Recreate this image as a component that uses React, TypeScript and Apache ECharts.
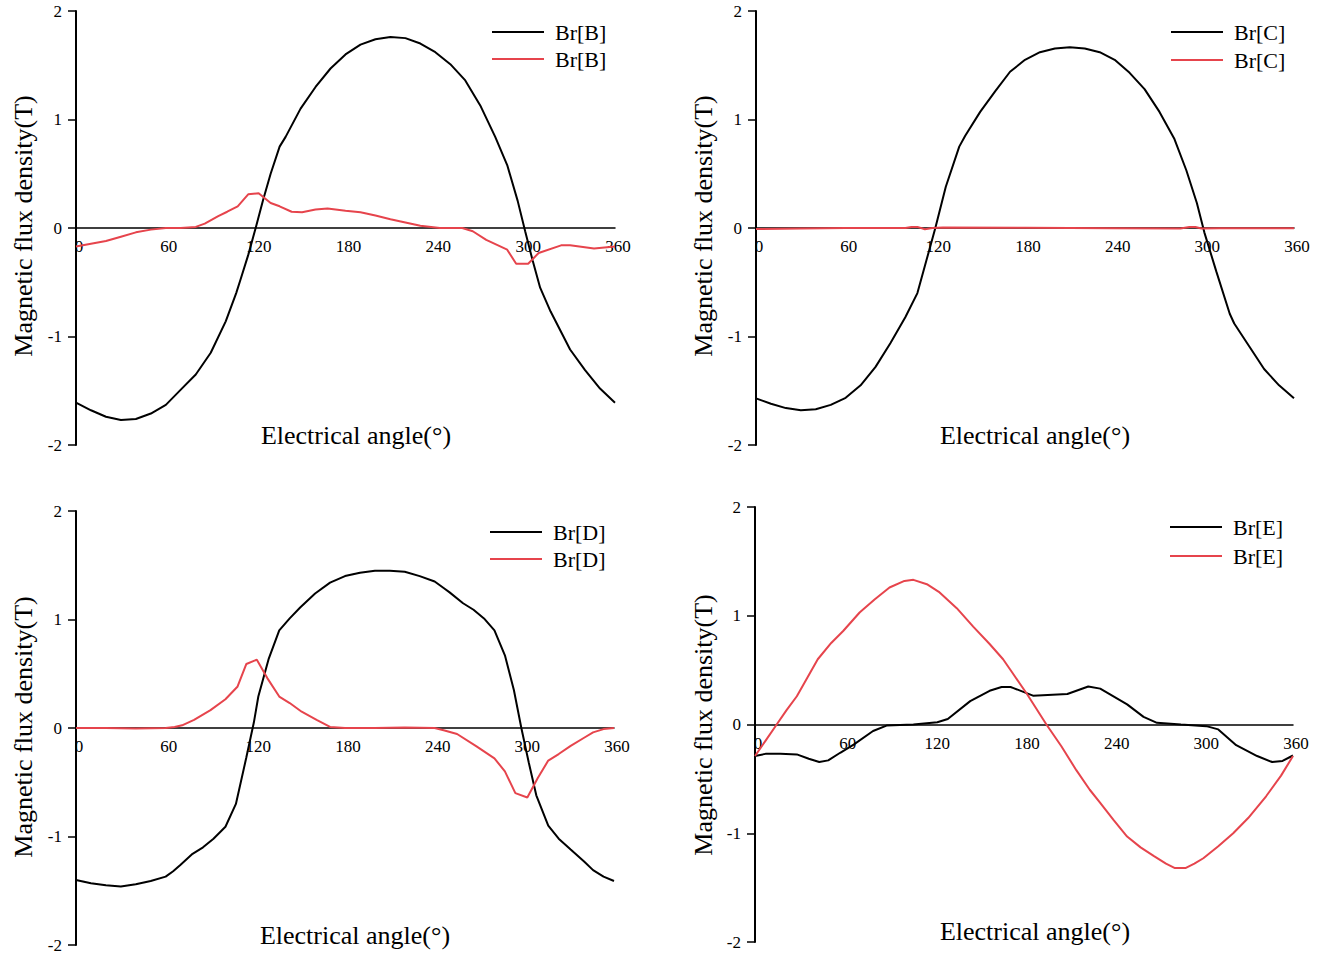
import React, { useEffect, useRef } from 'react';
import * as echarts from 'echarts';

const FONT = 'Liberation Serif';
const RED = '#e6444c';

const angleMin = 0;
const angleMax = 360;
const angleStep = 60;
const yMin = -2;
const yMax = 2;
const yStep = 1;

const xTitle = 'Electrical angle(°)';
const yTitle = 'Magnetic flux density(T)';

// Panel B
const bBlackAng = [0,10,20,30,40,50,60,70,80,90,100,107,110,115,120,125,130,136,140,150,160,170,180,190,200,210,220,230,240,250,260,270,280,288,295,300,305,310,317,320,330,340,350,360];
const bBlackVal = [-1.61,-1.68,-1.74,-1.77,-1.76,-1.71,-1.63,-1.49,-1.35,-1.15,-0.86,-0.60,-0.47,-0.25,0.0,0.26,0.50,0.75,0.84,1.10,1.30,1.47,1.60,1.69,1.74,1.76,1.75,1.70,1.62,1.51,1.36,1.13,0.84,0.58,0.25,-0.03,-0.30,-0.55,-0.77,-0.85,-1.12,-1.31,-1.48,-1.61];
const bRedAng = [0,10,20,30,40,50,60,70,80,86,95,101,108,115,122,130,136,144,151,160,168,180,190,200,210,220,230,243,258,265,274,288,294,302,309,324,330,346,360];
const bRedVal = [-0.17,-0.145,-0.12,-0.08,-0.04,-0.015,0.0,0.0,0.01,0.04,0.11,0.15,0.20,0.31,0.32,0.23,0.20,0.15,0.145,0.17,0.18,0.16,0.145,0.115,0.08,0.05,0.02,0.0,0.0,-0.03,-0.11,-0.20,-0.33,-0.33,-0.23,-0.16,-0.16,-0.19,-0.17];

// Panel C
const cBlackAng = [0,10,20,30,40,50,60,70,80,90,100,108,114,120,127,136,140,150,160,170,180,190,200,210,220,230,240,250,260,270,280,288,295,300,308,317,320,330,340,350,360];
const cBlackVal = [-1.57,-1.62,-1.66,-1.68,-1.67,-1.63,-1.565,-1.45,-1.28,-1.06,-0.82,-0.60,-0.30,0.0,0.38,0.75,0.85,1.07,1.26,1.44,1.55,1.62,1.655,1.665,1.655,1.62,1.55,1.43,1.28,1.07,0.82,0.53,0.23,-0.04,-0.40,-0.79,-0.88,-1.09,-1.30,-1.45,-1.57];
const cRedAng = [0,30,60,100,104,108,113,118,125,180,240,284,290,294,298,310,360];
const cRedVal = [-0.01,-0.005,0.0,0.0,0.01,0.01,-0.012,0.0,0.005,0.002,-0.002,-0.005,0.01,0.01,-0.005,-0.003,-0.003];

// Panel D
const dBlackAng = [0,10,20,30,40,50,60,65,70,78,85,92,100,107,114,119,122,129,136,143,150,160,170,180,190,200,210,220,230,240,246,250,259,266,273,280,287,293,298,303,308,316,323,331,340,346,353,360];
const dBlackVal = [-1.40,-1.43,-1.45,-1.46,-1.44,-1.41,-1.37,-1.32,-1.26,-1.16,-1.10,-1.02,-0.91,-0.70,-0.27,0.05,0.29,0.64,0.90,1.01,1.11,1.24,1.34,1.40,1.43,1.45,1.45,1.44,1.40,1.35,1.29,1.25,1.15,1.09,1.01,0.90,0.67,0.35,0.0,-0.32,-0.62,-0.90,-1.02,-1.12,-1.23,-1.31,-1.37,-1.41];
const dRedAng = [0,20,40,60,66,71,79,90,100,108,114,121,128,136,143,151,161,170,180,200,220,240,246,255,268,280,287,294,302,309,316,323,331,340,346,353,360];
const dRedVal = [0.0,0.0,-0.005,0.0,0.01,0.025,0.075,0.165,0.265,0.38,0.59,0.63,0.46,0.29,0.23,0.15,0.075,0.01,0.0,0.0,0.005,0.0,-0.02,-0.055,-0.17,-0.28,-0.40,-0.60,-0.64,-0.46,-0.30,-0.24,-0.165,-0.09,-0.04,-0.01,0.0];

// Panel E
const eBlackAng = [0,7,17,28,36,43,49,57,66,79,88,106,122,129,144,157,165,171,173,186,209,223,231,249,260,269,285,302,310,322,336,346,353,360];
const eBlackVal = [-0.29,-0.27,-0.27,-0.275,-0.315,-0.345,-0.33,-0.26,-0.185,-0.06,-0.01,0.0,0.02,0.05,0.215,0.31,0.345,0.345,0.335,0.265,0.28,0.35,0.33,0.185,0.07,0.015,0.0,-0.015,-0.045,-0.19,-0.29,-0.345,-0.335,-0.285];
const eRedAng = [0,7,14.5,21,28,35,42,51,59,70,80,90,100,106,115,123,135,146,157,166,172,182,195,205,215,224,231,240,249,258,267,275,281,288,294,300,310,320,330,342,352,360];
const eRedVal = [-0.29,-0.15,0.0,0.13,0.26,0.43,0.60,0.75,0.86,1.03,1.15,1.26,1.32,1.33,1.29,1.22,1.07,0.90,0.74,0.60,0.48,0.28,0.0,-0.20,-0.42,-0.60,-0.72,-0.88,-1.03,-1.13,-1.21,-1.28,-1.32,-1.32,-1.28,-1.23,-1.12,-1.00,-0.86,-0.66,-0.47,-0.29];

const panelLabels = ['Br[B]', 'Br[C]', 'Br[D]', 'Br[E]'];
const panelData = [
  [[bBlackAng, bBlackVal], [bRedAng, bRedVal]],
  [[cBlackAng, cBlackVal], [cRedAng, cRedVal]],
  [[dBlackAng, dBlackVal], [dRedAng, dRedVal]],
  [[eBlackAng, eBlackVal], [eRedAng, eRedVal]],
];

// layout (pixels)
const grids = [
  { left: 76, top: 11, width: 539, height: 434 },
  { left: 756, top: 11, width: 538, height: 434 },
  { left: 76, top: 511, width: 538, height: 434 },
  { left: 755, top: 507, width: 538, height: 435 },
];
const legendPos = [
  { left: 487, top: 15, gap: 3 },
  { left: 1166, top: 15, gap: 4 },
  { left: 485, top: 515, gap: 3 },
  { left: 1165, top: 510, gap: 5 },
];
const xNamePos = [
  { x: 356, y: 435 },
  { x: 1035, y: 435 },
  { x: 355, y: 935 },
  { x: 1035, y: 931 },
];
const yNamePos = [
  { x: 23, y: 226 },
  { x: 703, y: 226 },
  { x: 23, y: 727 },
  { x: 703, y: 725 },
];

const zip = (a: number[], b: number[]) => a.map((v, i) => [v, b[i]]);

export default function App() {
  const ref = useRef<HTMLDivElement>(null);
  useEffect(() => {
    if (!ref.current) return;
    const chart = echarts.init(ref.current, undefined, { renderer: 'svg' });
    const xAxis: any[] = [];
    const yAxis: any[] = [];
    const series: any[] = [];
    const legend: any[] = [];
    const graphic: any[] = [];
    grids.forEach((g, i) => {
      // place the x axis on the zero line
      const zeroOffset = -(g.height * (0 - yMin)) / (yMax - yMin);
      xAxis.push({
        gridIndex: i,
        type: 'value',
        position: 'bottom',
        offset: zeroOffset,
        min: angleMin,
        max: angleMax,
        interval: angleStep,
        axisLine: { show: true, onZero: false, lineStyle: { color: '#000', width: 1.5 } },
        axisTick: { show: false },
        splitLine: { show: false },
        axisLabel: { color: '#000', fontSize: 17, fontFamily: 'serif', margin: 10, padding: [0, 0, 0, 6] },
      });
      yAxis.push({
        gridIndex: i,
        type: 'value',
        min: yMin,
        max: yMax,
        interval: yStep,
        axisLine: { show: true, onZero: false, lineStyle: { color: '#000', width: 2 } },
        axisTick: { show: true, length: 8, lineStyle: { color: '#000', width: 1.5 } },
        splitLine: { show: false },
        axisLabel: { color: '#000', fontSize: 17, fontFamily: 'serif', margin: 14 },
      });
      const lab = panelLabels[i];
      const n1 = lab + '#1';
      const n2 = lab + '#2';
      series.push({
        name: n1,
        type: 'line',
        xAxisIndex: i,
        yAxisIndex: i,
        data: zip(panelData[i][0][0], panelData[i][0][1]),
        showSymbol: false,
        symbol: 'none',
        lineStyle: { color: '#000', width: 2 },
        itemStyle: { color: '#000' },
        z: 3,
      });
      series.push({
        name: n2,
        type: 'line',
        xAxisIndex: i,
        yAxisIndex: i,
        data: zip(panelData[i][1][0], panelData[i][1][1]),
        showSymbol: false,
        symbol: 'none',
        lineStyle: { color: RED, width: 2 },
        itemStyle: { color: RED },
        z: 4,
      });
      legend.push({
        data: [n1, n2],
        orient: 'vertical',
        left: legendPos[i].left,
        top: legendPos[i].top,
        itemGap: legendPos[i].gap,
        icon: 'rect',
        itemWidth: 52,
        itemHeight: 2,
        selectedMode: false,
        formatter: (name: string) => name.split('#')[0],
        textStyle: { fontSize: 22, fontFamily: FONT, color: '#000', lineHeight: 24, padding: [0, 0, 0, 6] },
      });
      graphic.push({
        type: 'text',
        x: xNamePos[i].x,
        y: xNamePos[i].y,
        style: {
          text: xTitle,
          font: `26px ${FONT}`,
          fill: '#000',
          textAlign: 'center',
          textVerticalAlign: 'middle',
        },
      });
      graphic.push({
        type: 'text',
        x: yNamePos[i].x,
        y: yNamePos[i].y,
        rotation: Math.PI / 2,
        style: {
          text: yTitle,
          font: `26px ${FONT}`,
          fill: '#000',
          textAlign: 'center',
          textVerticalAlign: 'middle',
        },
      });
    });
    chart.setOption({
      animation: false,
      backgroundColor: '#fff',
      textStyle: { fontFamily: FONT },
      grid: grids,
      xAxis,
      yAxis,
      series,
      legend,
      graphic,
    });
    return () => chart.dispose();
  }, []);
  return <div ref={ref} style={{ position: 'absolute', left: 0, top: 0, width: 1325, height: 957 }} />;
}
